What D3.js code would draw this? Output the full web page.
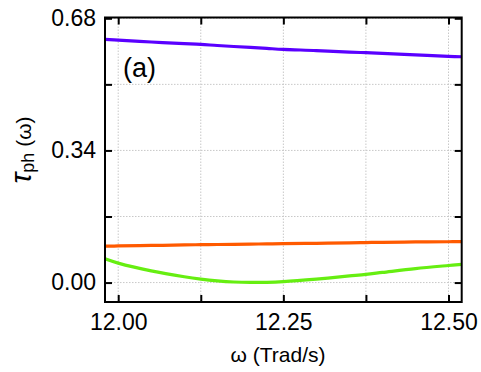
<!DOCTYPE html>
<html>
<head>
<meta charset="utf-8">
<script src="https://cdn.jsdelivr.net/npm/d3@7"></script>
<style>
  html, body { margin: 0; padding: 0; background: #fff; }
  svg { display: block; }
  text { font-family: "Liberation Sans", Arial, Helvetica, sans-serif; fill: #000; }
</style>
</head>
<body>
<svg id="chart" width="481" height="372"></svg>
<script>
// ---- data ----
const omega = [11.98, 12.00, 12.05, 12.10, 12.125, 12.15, 12.175, 12.20, 12.225, 12.25, 12.30, 12.35, 12.375, 12.40, 12.45, 12.50, 12.52];
const tauBlue   = [0.626, 0.624, 0.619, 0.615, 0.613, 0.610, 0.6075, 0.605, 0.6025, 0.600, 0.597, 0.593, 0.5916, 0.590, 0.586, 0.582, 0.581];
const tauOrange = [0.0936, 0.0942, 0.0955, 0.0968, 0.0975, 0.098, 0.0985, 0.099, 0.0995, 0.100, 0.101, 0.102, 0.103, 0.1035, 0.1045, 0.105, 0.1055];
const tauGreen  = [0.061, 0.050, 0.030, 0.015, 0.009, 0.0045, 0.0015, 0.0003, 0.0007, 0.0025, 0.009, 0.017, 0.021, 0.026, 0.036, 0.044, 0.047];
const seriesColors = ["#5a00ff", "#ff5a00", "#66ee11"];
const xTicks = [12.00, 12.125, 12.25, 12.375, 12.50];
const xTickLabels = ["12.00", "", "12.25", "", "12.50"];
const yTicks = [0.00, 0.17, 0.34, 0.51, 0.68];
const yTickLabels = ["0.00", "", "0.34", "", "0.68"];

// ---- layout ----
const L = 105, R = 461.7, T = 17.5, B = 302;
const svg = d3.select("#chart");
const x = d3.scaleLinear().domain([11.98, 12.52]).range([L, R]);
const y = d3.scaleLinear().domain([-0.05, 0.68]).range([B, 18.3]);

// grid
const grid = svg.append("g");
grid.selectAll("line.gx").data(xTicks).join("line")
  .attr("x1", d => x(d)).attr("x2", d => x(d)).attr("y1", T).attr("y2", B)
  .attr("stroke", "#c8c8c8").attr("stroke-width", 1).attr("stroke-dasharray", "1.5,1.5");
grid.selectAll("line.gy").data(yTicks).join("line")
  .attr("y1", d => y(d)).attr("y2", d => y(d)).attr("x1", L).attr("x2", R)
  .attr("stroke", "#c8c8c8").attr("stroke-width", 1).attr("stroke-dasharray", "1.5,1.5");

// curves
svg.append("clipPath").attr("id", "clip").append("rect")
  .attr("x", L).attr("y", T).attr("width", R - L).attr("height", B - T);
const lineGen = d3.line().x(d => x(d[0])).y(d => y(d[1])).curve(d3.curveCatmullRom.alpha(0.5));
[tauBlue, tauOrange, tauGreen].forEach((vals, i) => {
  svg.append("path")
    .attr("d", lineGen(omega.map((w, j) => [w, vals[j]])))
    .attr("fill", "none").attr("stroke", seriesColors[i]).attr("stroke-width", 3.2)
    .attr("clip-path", "url(#clip)");
});

// axes (ticks inward)
const tickLen = 7;
const fmt = (labels, ticks) => (d => labels[ticks.indexOf(d)]);
const xb = svg.append("g").attr("transform", `translate(0,${B})`)
  .call(d3.axisBottom(x).tickValues(xTicks).tickSizeInner(-tickLen).tickSizeOuter(0).tickPadding(12).tickFormat(fmt(xTickLabels, xTicks)));
const xt = svg.append("g").attr("transform", `translate(0,${T})`)
  .call(d3.axisTop(x).tickValues(xTicks).tickSizeInner(-tickLen).tickSizeOuter(0).tickFormat(""));
const yl = svg.append("g").attr("transform", `translate(${L},0)`)
  .call(d3.axisLeft(y).tickValues(yTicks).tickSizeInner(-tickLen).tickSizeOuter(0).tickPadding(9).tickFormat(fmt(yTickLabels, yTicks)));
const yr = svg.append("g").attr("transform", `translate(${R},0)`)
  .call(d3.axisRight(y).tickValues(yTicks).tickSizeInner(-tickLen).tickSizeOuter(0).tickFormat(""));
[xb, xt, yl, yr].forEach(g => {
  g.select(".domain").remove();
  g.selectAll(".tick line").attr("stroke", "#000").attr("stroke-width", 2);
  g.selectAll(".tick text").style("font-size", "23px").style("font-family", "'Liberation Sans', Arial, sans-serif");
});
xb.selectAll(".tick text").attr("dy", "0.71em");

// frame
svg.append("rect").attr("x", L).attr("y", T).attr("width", R - L).attr("height", B - T)
  .attr("fill", "none").attr("stroke", "#000").attr("stroke-width", 2);

// panel label
svg.append("text").attr("x", 123).attr("y", 77).style("font-size", "27px").text("(a)");

// axis titles
svg.append("text").attr("x", 278).attr("y", 362).attr("text-anchor", "middle")
  .style("font-size", "21px").text("ω (Trad/s)");

const yt = svg.append("text").attr("transform", "translate(31,150) rotate(-90)")
  .attr("text-anchor", "middle");
yt.append("tspan").style("font-size", "29px").style("font-style", "italic").text("τ");
yt.append("tspan").style("font-size", "18px").attr("dy", "3").text("ph");
yt.append("tspan").style("font-size", "21px").attr("dy", "-3").text(" (ω)");
</script>
</body>
</html>
